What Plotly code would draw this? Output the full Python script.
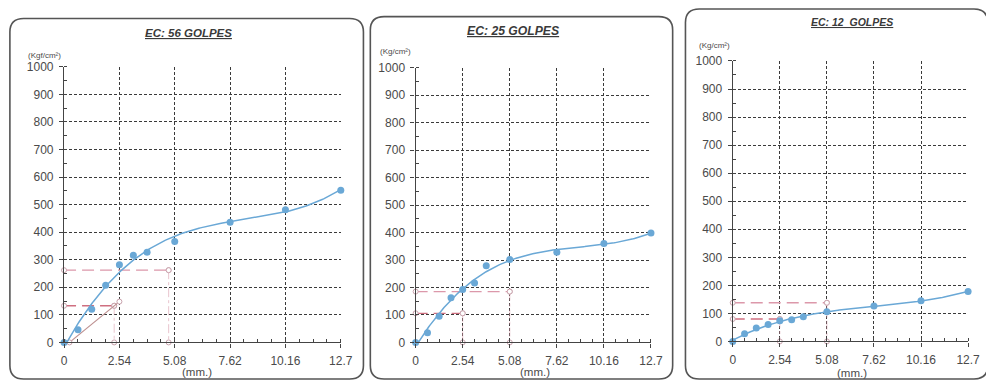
import numpy as np
import plotly.graph_objects as go

W, H = 986, 387

# CBR penetration (mm) and measured loads for each compaction energy
penetration = [0, 0.64, 1.27, 1.91, 2.54, 3.18, 3.81, 5.08, 7.62, 10.16, 12.70]
load_56 = [0, 46, 120, 207, 282, 316, 327, 366, 436, 481, 552]
load_25 = [0, 35, 95, 163, 193, 216, 279, 302, 328, 360, 398]
load_12 = [0, 27, 48, 60, 74, 77, 88, 106, 126, 145, 178]

titles = ["EC: 56 GOLPES", "EC: 25 GOLPES", "EC: 12  GOLPES"]
units = ["(Kgf/cm²)", "(Kg/cm²)", "(Kg/cm²)"]
x_ticks = [0, 2.54, 5.08, 7.62, 10.16, 12.7]
x_tick_text = ["0", "2.54", "5.08", "7.62", "10.16", "12.7"]
y_ticks = list(range(0, 1001, 100))

# corrected-load guide lines (one entry per panel)
guide_upper_pen = [4.80, 5.08, 5.08]
guide_upper_load = [262, 185, 138]
guide_lower_pen = [2.30, 2.54, 2.54]
guide_lower_load = [133, 106, 80]
tangent_56_pen = [0.25, 2.54]
tangent_56_load = [0, 148]

loads = [load_56, load_25, load_12]

# panel geometry in pixels: plot area (x0, x1, ytop, ybottom) and frame box
plot_px = [(62, 343, 62, 348), (419, 658, 63, 348), (741, 980, 56, 347)]
frame_px = [(7, 366, 12, 386), (373, 680, 10, 386), (693, 1000, 2, 386)]
title_px = [(188, 27, 11.5), (518, 25, 12.2), (862, 16, 10.5)]
unit_px = [(42, 50), (399, 46), (722, 40)]
mm_px = [(197, 379), (540, 379), (862, 380)]

BLUE = "#6aa8d6"
PINK = "#dc98aa"
RED = "#cf6f80"
FAINT = "rgba(215,150,165,0.55)"
GRID = "#3a3a3a"
TXT = "#4a4a4a"
FONT = "Liberation Sans, Arial"


def px(x):
    return x / W


def py(y):
    return 1 - y / H


fig = go.Figure()
x_fit = np.linspace(0, 12.7, 200)
guide_marker = dict(size=5, color="white", line=dict(color="#c9a3ad", width=1))

for i, load in enumerate(loads):
    n = i + 1
    xs = "x" if n == 1 else f"x{n}"
    ys = "y" if n == 1 else f"y{n}"

    # guide lines for the corrected values
    up_p, up_l = guide_upper_pen[i], guide_upper_load[i]
    lo_p, lo_l = guide_lower_pen[i], guide_lower_load[i]
    fig.add_trace(go.Scatter(x=[up_p, up_p], y=[up_l, 0], xaxis=xs, yaxis=ys, mode="lines+markers",
                             line=dict(color=FAINT, width=1, dash="dashdot"), marker=guide_marker,
                             cliponaxis=False, showlegend=False, hoverinfo="skip"))
    fig.add_trace(go.Scatter(x=[lo_p, lo_p], y=[lo_l, 0], xaxis=xs, yaxis=ys, mode="lines+markers",
                             line=dict(color=FAINT, width=1, dash="dashdot"), marker=guide_marker,
                             cliponaxis=False, showlegend=False, hoverinfo="skip"))
    fig.add_trace(go.Scatter(x=[0, up_p], y=[up_l, up_l], xaxis=xs, yaxis=ys, mode="lines+markers",
                             line=dict(color=PINK, width=1.3, dash="12px,6px"), marker=guide_marker,
                             cliponaxis=False, showlegend=False, hoverinfo="skip"))
    fig.add_trace(go.Scatter(x=[0, lo_p], y=[lo_l, lo_l], xaxis=xs, yaxis=ys, mode="lines+markers",
                             line=dict(color=RED, width=1.3, dash="12px,6px"), marker=guide_marker,
                             cliponaxis=False, showlegend=False, hoverinfo="skip"))
    if i == 0:
        fig.add_trace(go.Scatter(x=tangent_56_pen, y=tangent_56_load, xaxis=xs, yaxis=ys,
                                 mode="lines+markers", line=dict(color="#bd8f8f", width=1.2),
                                 marker=guide_marker, cliponaxis=False, showlegend=False,
                                 hoverinfo="skip"))

    # cubic trend line through the measured points
    coef = np.polyfit(penetration, load, 3)
    fig.add_trace(go.Scatter(x=x_fit, y=np.polyval(coef, x_fit), xaxis=xs, yaxis=ys, mode="lines",
                             line=dict(color=BLUE, width=1.5), cliponaxis=False,
                             showlegend=False, hoverinfo="skip"))
    fig.add_trace(go.Scatter(x=penetration, y=load, xaxis=xs, yaxis=ys, mode="markers",
                             marker=dict(size=7, color=BLUE), cliponaxis=False, showlegend=False))

    x0, x1, yt, yb = plot_px[i]
    axis_common = dict(showline=True, linecolor="#444", linewidth=1.3, zeroline=False,
                       showgrid=True, gridcolor=GRID, gridwidth=1.1, griddash="3px,2px",
                       ticks="outside", ticklen=4, tickcolor="#444",
                       tickfont=dict(family=FONT, size=12, color=TXT))
    fig.layout[f"xaxis{n}"] = dict(
        domain=[px(x0), px(x1)], range=[0, 12.7], anchor=ys,
        tickmode="array", tickvals=x_ticks, ticktext=x_tick_text, ticklabelstandoff=3,
        minor=dict(dtick=0.635, tick0=0, ticks="inside", ticklen=3, tickcolor="#444", showgrid=False),
        **axis_common)
    fig.layout[f"yaxis{n}"] = dict(
        domain=[py(yb), py(yt)], range=[0, 1000], anchor=xs,
        tickmode="array", tickvals=y_ticks, ticklabelstandoff=3,
        minor=dict(dtick=50, tick0=0, ticks="inside", ticklen=3, tickcolor="#444", showgrid=False),
        **axis_common)

    # rounded frame around each panel
    fx0, fx1, fy0, fy1 = frame_px[i]
    r = 14
    path = (f"M {px(fx0 + r)},{py(fy0)} L {px(fx1 - r)},{py(fy0)} "
            f"Q {px(fx1)},{py(fy0)} {px(fx1)},{py(fy0 + r)} L {px(fx1)},{py(fy1 - r)} "
            f"Q {px(fx1)},{py(fy1)} {px(fx1 - r)},{py(fy1)} L {px(fx0 + r)},{py(fy1)} "
            f"Q {px(fx0)},{py(fy1)} {px(fx0)},{py(fy1 - r)} L {px(fx0)},{py(fy0 + r)} "
            f"Q {px(fx0)},{py(fy0)} {px(fx0 + r)},{py(fy0)} Z")
    fig.add_shape(type="path", path=path, xref="paper", yref="paper",
                  line=dict(color="#555", width=1.6), layer="below")

    tx, ty, tsize = title_px[i]
    fig.add_annotation(x=px(tx), y=py(ty), xref="paper", yref="paper", showarrow=False,
                       xanchor="center", yanchor="middle",
                       text=f"<u><b><i>{titles[i]}</i></b></u>",
                       font=dict(family=FONT, size=tsize, color="#3a3a3a"))
    ux, uy = unit_px[i]
    fig.add_annotation(x=px(ux), y=py(uy), xref="paper", yref="paper", showarrow=False,
                       xanchor="center", yanchor="middle",
                       text=units[i], font=dict(family=FONT, size=8, color=TXT))
    mx, my = mm_px[i]
    fig.add_annotation(x=px(mx), y=py(my), xref="paper", yref="paper", showarrow=False,
                       xanchor="center", yanchor="middle",
                       text="(mm.)", font=dict(family=FONT, size=11.5, color=TXT))

fig.update_layout(width=W, height=H, margin=dict(l=0, r=0, t=0, b=0),
                  paper_bgcolor="white", plot_bgcolor="white",
                  font=dict(family=FONT))

fig.write_html("out.html")
